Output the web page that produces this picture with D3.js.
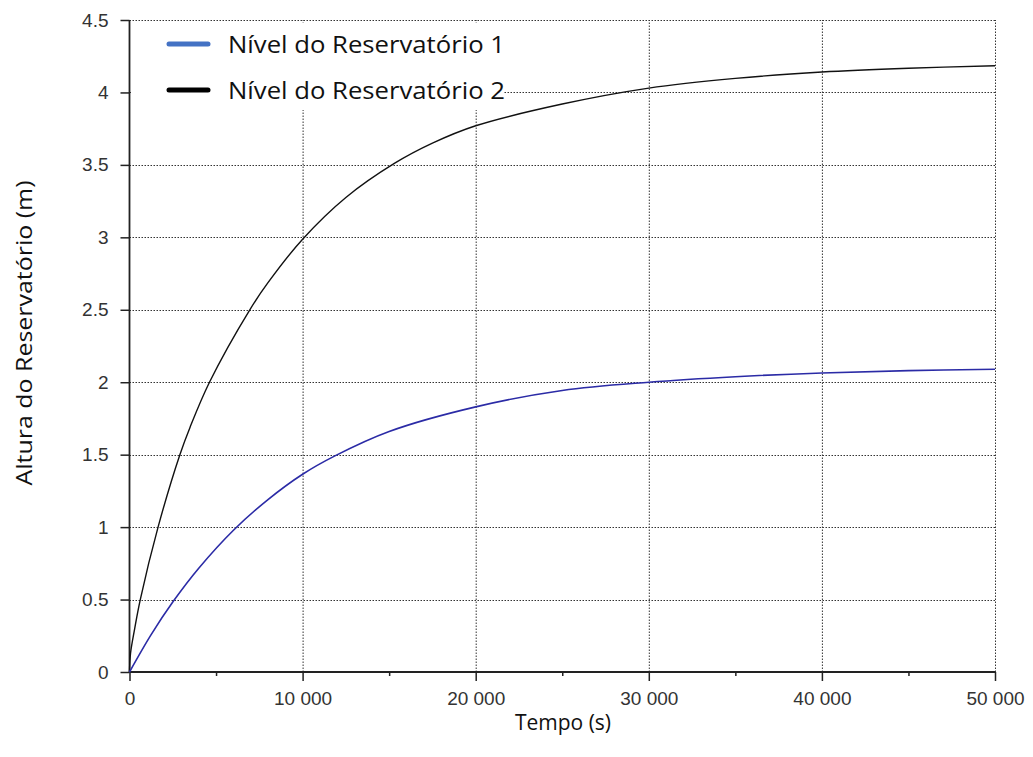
<!DOCTYPE html>
<html lang="pt">
<head>
    <meta charset="UTF-8">
    <title>Nível dos Reservatórios</title>
    <script src="https://d3js.org/d3.v7.min.js"></script>
    <style>
        body { margin: 0; background: #fff; }
    </style>
</head>
<body>
    <div id="chart"></div>

    <script>
        // Data (tempo em s, altura em m)
        const tempo1 = [0, 1250, 2520, 4000, 6020, 8000, 10000, 11840, 15000, 20000, 25000, 30000, 35000, 40000, 45000, 50000];
        const nivel1 = [0, 0.258, 0.486, 0.716, 0.98, 1.19, 1.365, 1.49, 1.66, 1.83, 1.943, 2.0, 2.038, 2.064, 2.08, 2.09];

        const tempo2 = [0, 60, 300, 623, 1650, 2910, 3500, 4620, 6950, 8000, 10000, 12500, 15300, 17500, 20000, 25000, 30000, 35000, 40000, 45000, 50000];
        const nivel2 = [0, 0.13, 0.3, 0.5, 1.0, 1.5, 1.69, 2.0, 2.5, 2.687, 2.987, 3.275, 3.51, 3.65, 3.77, 3.92, 4.03, 4.097, 4.141, 4.167, 4.184];

        const xTicks = [0, 10000, 20000, 30000, 40000, 50000];
        const xMinorTicks = [5000, 15000, 25000, 35000, 45000];
        const yTicks = [0, 0.5, 1, 1.5, 2, 2.5, 3, 3.5, 4, 4.5];

        const legendNames = ["Nível do Reservatório 1", "Nível do Reservatório 2"];

        const width = 1033, height = 757;
        const svg = d3.select("#chart").append("svg").attr("width", width).attr("height", height);

        const x = d3.scaleLinear().domain([0, 50000]).range([129.5, 995]);
        const y = d3.scaleLinear().domain([0, 4.5]).range([672, 20]);

        const fmt = d => d3.format(",")(d).replace(/,/g, " ");

        // grid
        const grid = svg.append("g").attr("stroke", "#333").attr("stroke-width", 1).attr("stroke-dasharray", "1.5,1.5");
        grid.selectAll(".gx").data(xTicks.slice(1)).enter().append("line")
            .attr("x1", d => x(d) + 0.5).attr("x2", d => x(d) + 0.5)
            .attr("y1", y(0)).attr("y2", y(4.5));
        grid.selectAll(".gy").data(yTicks.slice(1)).enter().append("line")
            .attr("y1", d => Math.round(y(d)) + 0.5).attr("y2", d => Math.round(y(d)) + 0.5)
            .attr("x1", x(0)).attr("x2", x(50000));

        // axes
        const xAxis = svg.append("g").attr("transform", `translate(0,${y(0)})`)
            .call(d3.axisBottom(x).tickValues(xTicks).tickFormat(fmt).tickSize(9).tickPadding(11));
        svg.append("g").attr("transform", `translate(0,${y(0)})`)
            .call(d3.axisBottom(x).tickValues(xMinorTicks).tickFormat("").tickSize(4))
            .call(g => g.select(".domain").remove());
        const yAxis = svg.append("g").attr("transform", `translate(${x(0)},0)`)
            .call(d3.axisLeft(y).tickValues(yTicks).tickFormat(d3.format("")).tickSize(9).tickPadding(12));

        svg.selectAll(".domain").attr("stroke", "#222").attr("stroke-width", 1.8);
        svg.selectAll(".tick line").attr("stroke", "#222").attr("stroke-width", 1.5);
        svg.selectAll(".tick text").attr("font-family", "Liberation Sans, Arial, sans-serif")
            .attr("font-size", 19).attr("fill", "#333");
        yAxis.select(".domain").attr("d", `M0,${y(0)}V${y(4.5)}`);
        xAxis.select(".domain").attr("d", `M${x(0)},0H${x(50000)}`);

        // curves
        const line = d3.line().x(d => x(d[0])).y(d => y(d[1])).curve(d3.curveCatmullRom.alpha(0.5));
        svg.append("path").datum(d3.zip(tempo2, nivel2))
            .attr("d", line).attr("fill", "none").attr("stroke", "#111").attr("stroke-width", 1.4);
        svg.append("path").datum(d3.zip(tempo1, nivel1))
            .attr("d", line).attr("fill", "none").attr("stroke", "#2b2ba6").attr("stroke-width", 1.6);

        // legend
        const legend = svg.append("g");
        legend.append("rect").attr("x", 132).attr("y", 23).attr("width", 371).attr("height", 87).attr("fill", "#fff");
        const legendColors = ["#4472c4", "#000"];
        legendNames.forEach((name, i) => {
            const ly = 44 + i * 46;
            legend.append("line").attr("x1", 169).attr("x2", 208).attr("y1", ly).attr("y2", ly)
                .attr("stroke", legendColors[i]).attr("stroke-width", 5).attr("stroke-linecap", "round");
            legend.append("text").attr("x", 228).attr("y", ly + 9).text(name)
                .attr("font-family", "Open Sans, sans-serif").attr("font-size", 24.5).attr("fill", "#111")
                .attr("textLength", 277).attr("lengthAdjust", "spacingAndGlyphs");
        });

        // axis titles
        svg.append("text").attr("x", 563).attr("y", 730).attr("text-anchor", "middle")
            .attr("font-family", "Open Sans, sans-serif").attr("font-size", 21).attr("fill", "#111")
            .text("Tempo (s)");
        svg.append("text").attr("transform", "translate(32,333) rotate(-90)").attr("text-anchor", "middle")
            .attr("font-family", "Open Sans, sans-serif").attr("font-size", 21.5).attr("fill", "#111")
            .attr("textLength", 305).attr("lengthAdjust", "spacingAndGlyphs")
            .text("Altura do Reservatório (m)");
    </script>
</body>
</html>
